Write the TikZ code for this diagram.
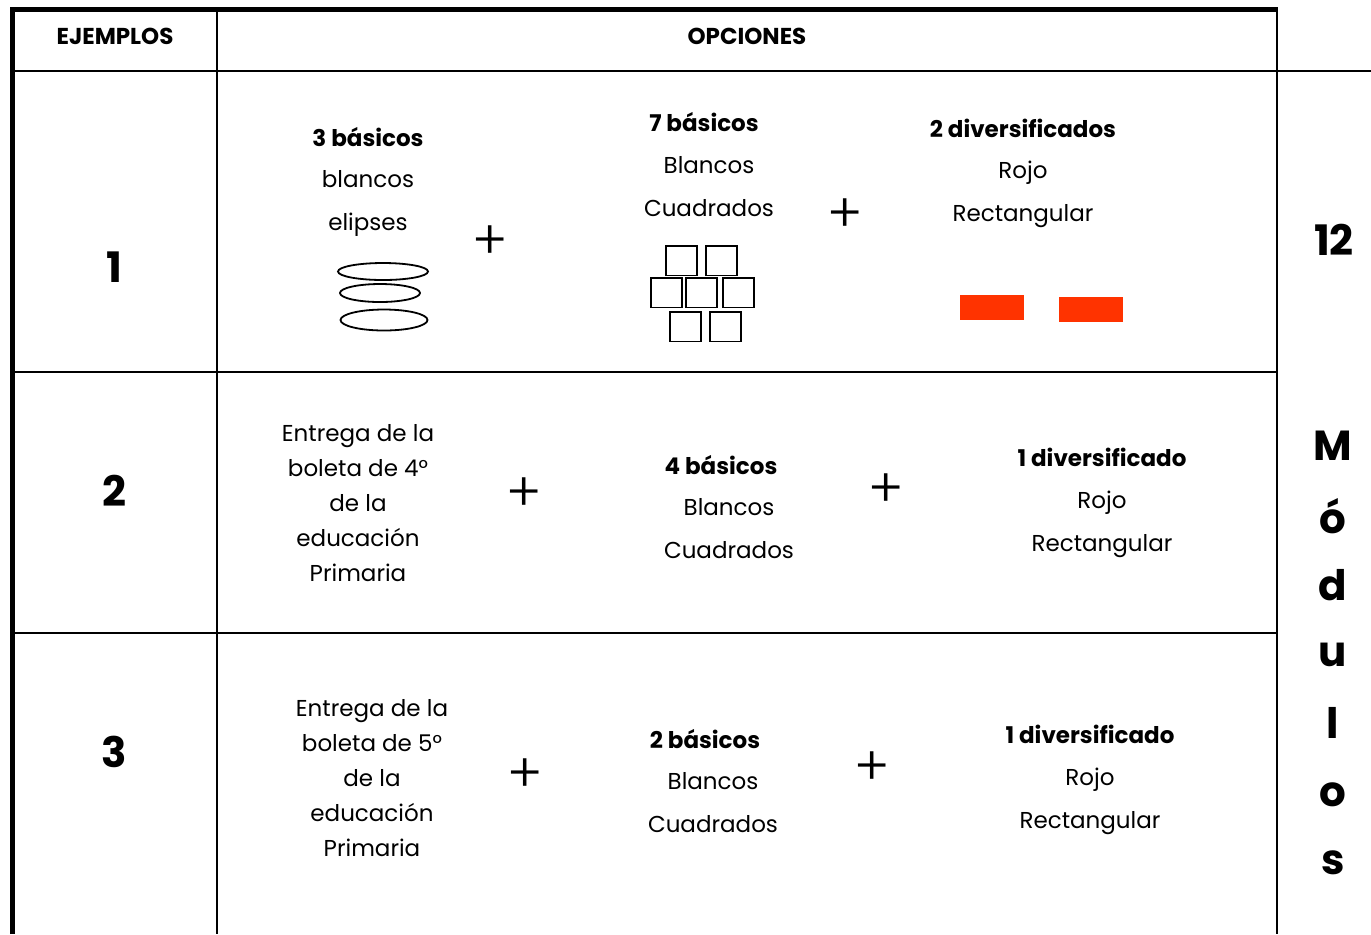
\documentclass[tikz,border=0pt]{standalone}
\usepackage{fontspec}
\setmainfont{Poppins}
\newfontfamily\plusfont{Poppins Light}
\usepackage{tikz}

\begin{document}
\begin{tikzpicture}[x=0.5pt,y=-0.5pt,
    txt/.style={font=\fontsize{11.5}{21.5}\selectfont, align=center, inner sep=0pt},
    hdr/.style={font=\fontsize{11.5}{14}\selectfont\bfseries, inner sep=0pt},
    blk/.style={font=\fontsize{11.5}{17.5}\selectfont, align=center, inner sep=0pt},
    num/.style={font=\fontsize{21}{21}\selectfont\bfseries, inner sep=0pt},
    plus/.style={font=\plusfont\fontsize{27}{27}\selectfont, inner sep=0pt},
    rojo/.style={fill=red1, draw=none}]
            \definecolor{red1}{HTML}{FF3300}
            \useasboundingbox (0,0) rectangle (1371,934);

            % table
            \draw[line width=2.5pt] (12,934) -- (12,9) -- (1278,9);
            \draw[line width=1pt] (217,9) -- (217,934);
            \draw[line width=1pt] (1277,9) -- (1277,934);
            \draw[line width=1pt] (12,70.5) -- (1371,70.5);
            \draw[line width=1pt] (12,372) -- (1277,372);
            \draw[line width=1pt] (12,633) -- (1277,633);

            \node[hdr] at (115,36) (E) {EJEMPLOS};
            \node[hdr] at (747,36) (O) {OPCIONES};

            \node[num] at (114,267) (N1) {1};
            \node[num] at (114,491) (N2) {2};
            \node[num] at (114,752) (N3) {3};

            % modulos
            \node[num] at (1334,240) (T) {12};
            \foreach \l/\y in {M/446,ó/516,d/585,u/655,l/723,o/795,s/863}
              \node[num] at (1333,\y) (M\y) {\l};

            % fila 1
            \node[hdr] at (368,137) (A1) {3 básicos};
            \node[txt] at (368,203.5) (A2) {blancos\\elipses};
            \draw[line width=0.9pt] (383,271.5) ellipse (45 and 8.5);
            \draw[line width=0.9pt] (380,293) ellipse (40 and 9);
            \draw[line width=0.9pt] (384,320) ellipse (43.5 and 10.5);
            \node[plus] at (490,243) (P1) {+};

            \node[hdr] at (704,122) (B1) {7 básicos};
            \node[txt] at (709,186.5) (B2) {Blancos\\Cuadrados};
            \foreach \xa/\ya in {666/246,706/246,651/278,686/278,723/278,670/312,710/312}
              \draw[line width=0.9pt] (\xa,\ya) rectangle ++(31,29.5);
            \node[plus] at (845,216) (P2) {+};

            \node[hdr] at (1023,128) (C1) {2 diversificados};
            \node[txt] at (1023,194.5) (C2) {Rojo\\Rectangular};
            \fill[red1] (960,295) rectangle (1024,320);
            \fill[red1] (1059,297) rectangle (1123,322);

            % fila 2
            \node[blk] at (358,503) (A3) {Entrega de la\\boleta de 4°\\de la\\educación\\Primaria};
            \node[plus] at (524,495) (P3) {+};
            \node[hdr] at (721,465) (B3) {4 básicos};
            \node[txt] at (729,529) (B4) {Blancos\\Cuadrados};
            \node[plus] at (886,491) (P4) {+};
            \node[hdr] at (1102,457) (C3) {1 diversificado};
            \node[txt] at (1102,524.5) (C4) {Rojo\\Rectangular};

            % fila 3
            \node[blk] at (372,778) (A5) {Entrega de la\\boleta de 5°\\de la\\educación\\Primaria};
            \node[plus] at (525,776) (P5) {+};
            \node[hdr] at (705,739) (B5) {2 básicos};
            \node[txt] at (713,802.5) (B6) {Blancos\\Cuadrados};
            \node[plus] at (872,769) (P6) {+};
            \node[hdr] at (1090,734) (C5) {1 diversificado};
            \node[txt] at (1090,801.5) (C6) {Rojo\\Rectangular};
\end{tikzpicture}
\end{document}
